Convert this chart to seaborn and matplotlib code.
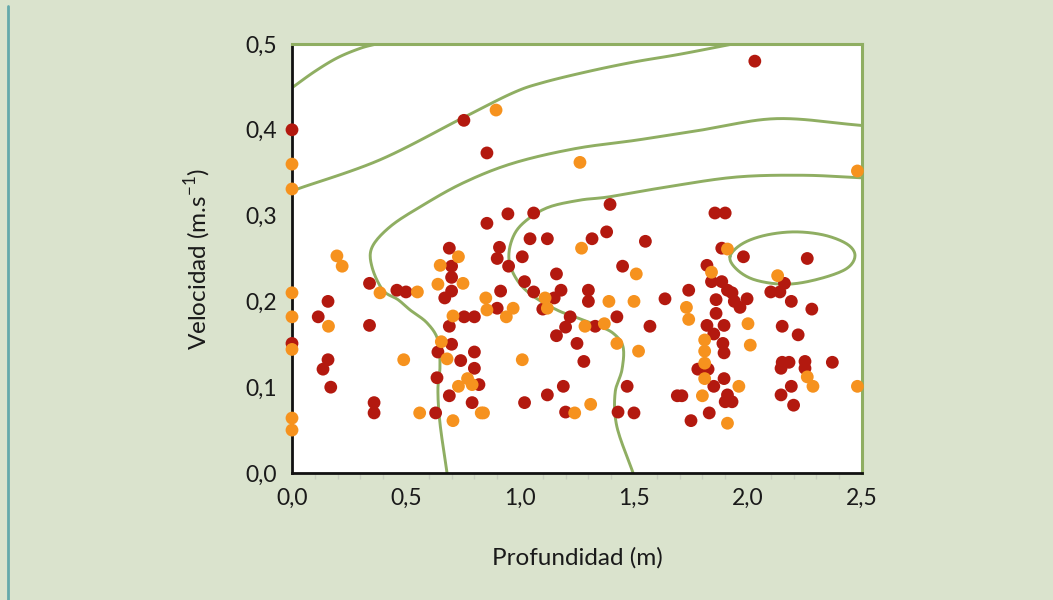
import numpy as np
import pandas as pd
import matplotlib
matplotlib.use("Agg")
import matplotlib.pyplot as plt
import seaborn as sns
from matplotlib.lines import Line2D
from matplotlib.ticker import MultipleLocator, FuncFormatter

# ---------------- data ----------------
red_x = [0.0, 0.0, 0.115, 0.158, 0.158, 0.136, 0.17, 0.34, 0.34, 0.36, 0.36, 0.46, 0.50,
         0.63, 0.636, 0.69, 0.79, 0.82, 0.80, 0.74, 0.64, 0.70, 0.80, 0.69, 0.755, 0.80,
         0.69, 0.70, 0.70, 0.70, 0.67, 0.754, 0.855, 0.855, 0.947, 1.06, 1.395, 1.044, 1.12,
         1.316, 1.38, 1.55, 0.91, 0.90, 1.01, 0.95, 1.16, 1.45, 1.02, 1.06, 1.18, 1.30, 1.30,
         1.636, 0.915, 1.15, 0.90, 1.10, 1.22, 1.425, 1.57, 1.20, 1.33, 1.16, 1.25, 1.28,
         1.19, 1.12, 1.47, 1.02, 1.20, 1.43, 1.50, 1.69, 2.03, 1.855, 1.90, 1.885, 1.98, 2.26,
         1.82, 2.16, 1.84, 1.885, 1.74, 1.91, 1.93, 2.10, 2.14, 1.86, 1.996, 1.965, 1.94, 2.19,
         2.28, 1.86, 1.82, 1.895, 1.85, 2.15, 2.22, 1.89, 1.895, 1.78, 1.825, 1.85, 1.895,
         1.71, 1.91, 1.90, 1.93, 1.83, 1.75, 2.15, 2.18, 2.145, 2.25, 2.25, 2.37, 2.19, 2.145,
         2.20]
red_y = [0.400, 0.151, 0.182, 0.200, 0.132, 0.121, 0.100, 0.172, 0.221, 0.082, 0.070, 0.213,
         0.211, 0.070, 0.111, 0.090, 0.082, 0.103, 0.122, 0.131, 0.141, 0.150, 0.141, 0.171,
         0.182, 0.182, 0.262, 0.241, 0.228, 0.212, 0.204, 0.411, 0.373, 0.291, 0.302, 0.303,
         0.313, 0.273, 0.273, 0.273, 0.281, 0.270, 0.263, 0.250, 0.252, 0.241, 0.232, 0.241,
         0.223, 0.211, 0.213, 0.213, 0.200, 0.203, 0.212, 0.204, 0.192, 0.191, 0.182, 0.182,
         0.171, 0.170, 0.171, 0.160, 0.151, 0.130, 0.101, 0.091, 0.101, 0.082, 0.071, 0.071,
         0.070, 0.090, 0.480, 0.303, 0.303, 0.262, 0.252, 0.250, 0.242, 0.221, 0.223, 0.223,
         0.213, 0.213, 0.210, 0.211, 0.211, 0.202, 0.203, 0.193, 0.200, 0.200, 0.191, 0.186,
         0.172, 0.172, 0.162, 0.171, 0.161, 0.151, 0.140, 0.121, 0.121, 0.101, 0.110, 0.090,
         0.091, 0.083, 0.083, 0.070, 0.061, 0.129, 0.129, 0.122, 0.130, 0.122, 0.129, 0.101,
         0.091, 0.079]

orange_x = [0.0, 0.0, 0.0, 0.0, 0.0, 0.0, 0.0, 0.197, 0.22, 0.16, 0.386, 0.55, 0.49, 0.56,
            0.706, 0.83, 0.73, 0.77, 0.79, 0.68, 0.655, 0.706, 0.73, 0.65, 0.75, 0.64, 0.895,
            1.263, 2.48, 1.27, 1.51, 1.39, 1.50, 0.85, 1.11, 0.97, 1.12, 0.855, 0.94, 1.285,
            1.37, 1.425, 1.52, 1.01, 1.31, 1.24, 0.84, 1.91, 1.84, 2.13, 1.73, 1.74, 2.00, 2.01,
            1.81, 1.81, 1.81, 1.81, 1.96, 1.80, 1.91, 2.26, 2.285, 2.48]
orange_y = [0.360, 0.331, 0.210, 0.182, 0.144, 0.064, 0.050, 0.253, 0.241, 0.171, 0.210,
            0.211, 0.132, 0.070, 0.061, 0.070, 0.101, 0.110, 0.103, 0.133, 0.153, 0.183, 0.252,
            0.242, 0.221, 0.220, 0.423, 0.362, 0.352, 0.262, 0.232, 0.200, 0.200, 0.204, 0.204,
            0.192, 0.192, 0.190, 0.182, 0.171, 0.174, 0.151, 0.142, 0.132, 0.080, 0.070, 0.070,
            0.261, 0.234, 0.230, 0.193, 0.179, 0.174, 0.149, 0.155, 0.142, 0.128, 0.110, 0.101,
            0.090, 0.058, 0.112, 0.101, 0.101]

# contour lines (x, y)
c1_x = [0.0, 0.10, 0.20, 0.30, 0.37]
c1_y = [0.449, 0.468, 0.484, 0.495, 0.500]
c2_x = [0.0, 0.035, 0.386, 0.75, 0.969, 1.10, 1.30, 1.50, 1.70, 1.934]
c2_y = [0.328, 0.332, 0.365, 0.414, 0.443, 0.455, 0.468, 0.479, 0.488, 0.500]
c3_x = [2.5, 2.127, 1.803, 1.513, 1.241, 0.969, 0.75, 0.561, 0.43, 0.351, 0.351, 0.399,
        0.465, 0.518, 0.592, 0.64, 0.649, 0.64, 0.649, 0.68]
c3_y = [0.405, 0.413, 0.400, 0.388, 0.378, 0.361, 0.338, 0.310, 0.287, 0.263, 0.240, 0.213,
        0.202, 0.190, 0.175, 0.155, 0.124, 0.097, 0.058, 0.0]
c4_x = [2.5, 2.241, 1.952, 1.658, 1.395, 1.263, 1.118, 1.013, 0.965, 0.952, 0.987, 1.053,
        1.162, 1.25, 1.338, 1.408, 1.452, 1.447, 1.417, 1.425, 1.496]
c4_y = [0.344, 0.347, 0.345, 0.334, 0.322, 0.318, 0.309, 0.291, 0.272, 0.248, 0.225, 0.207,
        0.190, 0.181, 0.172, 0.163, 0.147, 0.120, 0.093, 0.054, 0.0]
c5_x = [1.921, 1.974, 2.075, 2.206, 2.338, 2.439, 2.469, 2.425, 2.294, 2.162, 2.031, 1.952]
c5_y = [0.252, 0.267, 0.277, 0.281, 0.277, 0.266, 0.252, 0.237, 0.225, 0.220, 0.225, 0.237]

x_ticks = [0.0, 0.5, 1.0, 1.5, 2.0, 2.5]
y_ticks = [0.0, 0.1, 0.2, 0.3, 0.4, 0.5]
x_label = "Profundidad (m)"
y_label = r"Velocidad (m.s$^{\mathregular{-1}}$)"

# ---------------- style ----------------
BG = "#dae3cd"
RED = "#b3190f"
ORANGE = "#f6921e"
GREEN = "#8fae62"

sns.set_theme(style="white")
plt.rcParams["font.family"] = ["Lato", "DejaVu Sans"]
plt.rcParams["mathtext.fontset"] = "custom"
plt.rcParams["mathtext.rm"] = "Lato"

fig = plt.figure(figsize=(10.53, 6.0), dpi=100, facecolor=BG)
ax = fig.add_axes([0.2773, 0.2117, 0.5413, 0.715])
ax.set_facecolor("white")


def smooth(xs, ys, closed=False, n=12):
    pts = np.column_stack([xs, ys]).astype(float)
    if closed:
        pts = np.vstack([pts[-1], pts, pts[0], pts[1]])
    else:
        pts = np.vstack([2 * pts[0] - pts[1], pts, 2 * pts[-1] - pts[-2]])
    out = []
    for i in range(1, len(pts) - 2):
        p0, p1, p2, p3 = pts[i - 1], pts[i], pts[i + 1], pts[i + 2]
        for t in np.linspace(0, 1, n, endpoint=False):
            t2, t3 = t * t, t * t * t
            out.append(0.5 * ((2 * p1) + (-p0 + p2) * t + (2 * p0 - 5 * p1 + 4 * p2 - p3) * t2
                              + (-p0 + 3 * p1 - 3 * p2 + p3) * t3))
    out.append(pts[-2])
    out = np.array(out)
    return out[:, 0], out[:, 1]


for cx, cy, closed in [(c1_x, c1_y, False), (c2_x, c2_y, False), (c3_x, c3_y, False),
                       (c4_x, c4_y, False), (c5_x, c5_y, True)]:
    sx, sy = smooth(cx, cy, closed)
    ax.plot(sx, sy, color=GREEN, lw=2.1, zorder=2, clip_on=True, solid_capstyle="round")

df = pd.DataFrame({
    "x": red_x + orange_x,
    "y": red_y + orange_y,
    "grupo": ["rojo"] * len(red_x) + ["naranja"] * len(orange_x),
})
sns.scatterplot(data=df, x="x", y="y", hue="grupo",
                palette={"rojo": RED, "naranja": ORANGE},
                s=85, edgecolor="none", linewidth=0, legend=False, ax=ax,
                zorder=3, clip_on=False)

ax.set_xlim(0, 2.5)
ax.set_ylim(0, 0.5)
ax.set_xticks(x_ticks)
ax.set_yticks(y_ticks)
ax.xaxis.set_minor_locator(MultipleLocator(0.1))
fmt = FuncFormatter(lambda v, p: f"{v:.1f}".replace(".", ","))
ax.xaxis.set_major_formatter(fmt)
ax.yaxis.set_major_formatter(fmt)

ax.tick_params(axis="both", which="major", labelsize=16.5, colors="#c9cfc0",
               labelcolor="#1a1a1a", length=6, width=1.2, direction="inout")
ax.tick_params(axis="x", which="minor", length=4, width=1.0, colors="#c9cfc0",
               direction="out", bottom=True)
ax.tick_params(axis="x", pad=8)
ax.tick_params(axis="y", pad=8)

for side in ["left", "bottom"]:
    ax.spines[side].set_color("#111111")
    ax.spines[side].set_linewidth(2.0)
for side in ["top", "right"]:
    ax.spines[side].set_color(GREEN)
    ax.spines[side].set_linewidth(2.2)
    ax.spines[side].set_visible(True)

ax.set_xlabel(x_label, fontsize=17.5, color="#1a1a1a", labelpad=27)
ax.set_ylabel(y_label, fontsize=17.5, color="#1a1a1a", labelpad=23)

fig.add_artist(Line2D([0.0078, 0.0078], [0.0, 0.99], color="#64a9ab", lw=2.0))

fig.savefig("out.png", dpi=100, facecolor=BG)
